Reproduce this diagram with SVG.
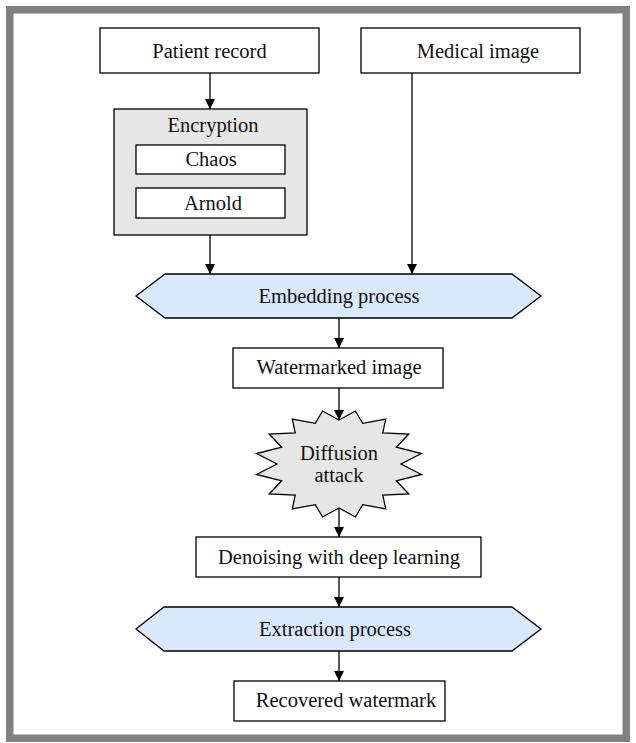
<svg xmlns="http://www.w3.org/2000/svg" width="636" height="743" viewBox="0 0 636 743">
<defs>
<style>
.box{fill:#ffffff;stroke:#000000;stroke-width:1.3}
.gray{fill:#e6e6e6;stroke:#000000;stroke-width:1.3}
.blue{fill:#dae8fc;stroke:#000000;stroke-width:1.3}
.t{font-family:"Liberation Serif","Times New Roman",serif;font-size:20.5px;fill:#111111;text-anchor:middle}
.c{stroke:#000000;stroke-width:1.3;fill:none}
</style>
<marker id="ah" viewBox="0 0 10 10" refX="10" refY="5" markerWidth="10" markerHeight="10" markerUnits="userSpaceOnUse" orient="auto">
<path d="M0,0 L10,5 L0,10 z" fill="#000000"/>
</marker>
</defs>
<rect x="0" y="0" width="636" height="743" fill="#ffffff"/>
<rect id="frame" x="9.75" y="9.75" width="616.5" height="728.5" fill="none" stroke="#808080" stroke-width="7.5"/>

<g id="connectors">
<line class="c" x1="210" y1="73" x2="210" y2="109" marker-end="url(#ah)"/>
<line class="c" x1="210" y1="235" x2="210" y2="274" marker-end="url(#ah)"/>
<line class="c" x1="412" y1="73" x2="412" y2="274" marker-end="url(#ah)"/>
<line class="c" x1="339" y1="318" x2="339" y2="348" marker-end="url(#ah)"/>
<line class="c" x1="339" y1="388" x2="339" y2="420" marker-end="url(#ah)"/>
<line class="c" x1="339" y1="508" x2="339" y2="537" marker-end="url(#ah)"/>
<line class="c" x1="339" y1="577" x2="339" y2="607" marker-end="url(#ah)"/>
<line class="c" x1="339" y1="651" x2="339" y2="681" marker-end="url(#ah)"/>
</g>

<g id="patient-record">
<rect class="box" x="100" y="28" width="219" height="45"/>
<text class="t" x="209.5" y="57.5">Patient record</text>
</g>

<g id="medical-image">
<rect class="box" x="361" y="28" width="219" height="45"/>
<text class="t" x="478" y="57.5">Medical image</text>
</g>

<g id="encryption">
<rect class="gray" x="114" y="109" width="193" height="126"/>
<text class="t" x="213" y="132">Encryption</text>
</g>

<g id="chaos">
<rect class="box" x="136" y="145" width="149" height="29"/>
<text class="t" x="211" y="166">Chaos</text>
</g>

<g id="arnold">
<rect class="box" x="136" y="188" width="149" height="30"/>
<text class="t" x="213" y="209.5">Arnold</text>
</g>

<g id="embedding-process">
<polygon class="blue" points="136,296 165,274 512,274 541,296 512,318 165,318"/>
<text class="t" x="339" y="303">Embedding process</text>
</g>

<g id="watermarked-image">
<rect class="box" x="233" y="348" width="210" height="40"/>
<text class="t" x="339" y="374">Watermarked image</text>
</g>

<g id="diffusion-attack">
<polygon class="gray" points="339,420 355.4,411 362.7,423.3 385.7,419.1 382.8,432.9 408.8,434 396.3,447.2 421.4,453.5 401,464 421.4,474.5 396.3,480.8 408.8,494 382.8,495.1 385.7,508.9 362.7,504.7 355.4,517 339,508 322.6,517 315.3,504.7 292.3,508.9 295.2,495.1 269.2,494 281.7,480.8 256.6,474.5 277,464 256.6,453.5 281.7,447.2 269.2,434 295.2,432.9 292.3,419.1 315.3,423.3 322.6,411"/>
<text class="t" x="339" y="460">Diffusion</text>
<text class="t" x="339" y="482">attack</text>
</g>

<g id="denoising">
<rect class="box" x="196" y="537" width="285" height="40"/>
<text class="t" x="339" y="564">Denoising with deep learning</text>
</g>

<g id="extraction-process">
<polygon class="blue" points="136,629 164,607 512,607 541,629 512,651 164,651"/>
<text class="t" x="335" y="635.5">Extraction process</text>
</g>

<g id="recovered-watermark">
<rect class="box" x="234" y="681" width="211" height="40"/>
<text class="t" x="346" y="707">Recovered watermark</text>
</g>
</svg>
